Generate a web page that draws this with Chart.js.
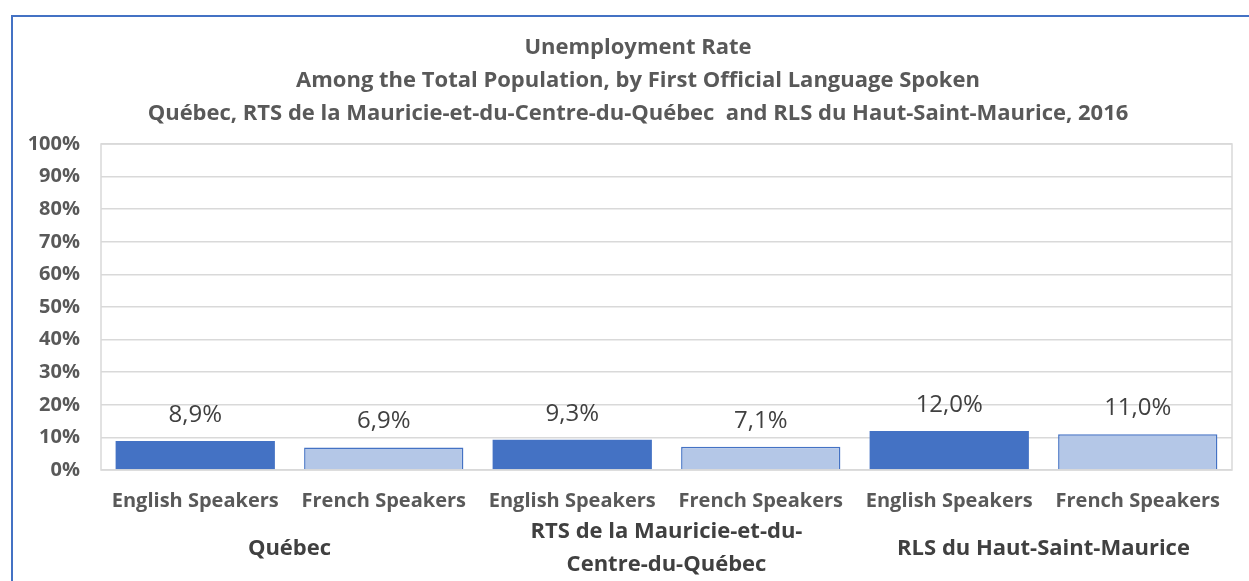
<!DOCTYPE html>
<html>
<head>
<meta charset="utf-8">
<script src="https://cdn.jsdelivr.net/npm/chart.js@4.4.1/dist/chart.umd.min.js"></script>
<style>
  html, body { margin: 0; padding: 0; background: #fff; }
  #wrap { position: relative; width: 1249px; height: 581px; overflow: hidden; }
  #frame { position: absolute; left: 11px; top: 15px; width: 1300px; height: 700px; border: 2px solid #4472C4; box-sizing: border-box; }
  canvas { position: absolute; left: 0; top: 0; }
</style>
</head>
<body>
<div id="wrap">
  <div id="frame"></div>
  <canvas id="c" width="1249" height="581"></canvas>
</div>
<script>
const titleLines = [
  "Unemployment Rate",
  "Among the Total Population, by First Official Language Spoken",
  "Québec, RTS de la Mauricie-et-du-Centre-du-Québec  and RLS du Haut-Saint-Maurice, 2016"
];
const categories = ["English Speakers", "French Speakers", "English Speakers", "French Speakers", "English Speakers", "French Speakers"];
const groups = [["Québec"], ["RTS de la Mauricie-et-du-", "Centre-du-Québec"], ["RLS du Haut-Saint-Maurice"]];
const values = [8.9, 6.9, 9.3, 7.1, 12.0, 11.0];
const yTicks = [0, 10, 20, 30, 40, 50, 60, 70, 80, 90, 100];

const FONT = "'Open Sans', sans-serif";
const DARK = "#4472C4", LIGHT = "#B4C7E7";
const fills = values.map((v, i) => i % 2 === 0 ? DARK : LIGHT);

const overlay = {
  id: 'overlay',
  afterDraw(chart) {
    const ctx = chart.ctx;
    const a = chart.chartArea;
    ctx.save();
    ctx.strokeStyle = '#D9D9D9';
    ctx.lineWidth = 1.5;
    ctx.strokeRect(a.left, a.top, a.right - a.left, a.bottom - a.top);
    ctx.fillStyle = '#595959';
    ctx.textAlign = 'center';
    ctx.textBaseline = 'middle';
    ctx.font = "bold 22px " + FONT;
    const ty = [48, 81, 114];
    titleLines.forEach((t, i) => ctx.fillText(t, 638, ty[i]));
    const meta = chart.getDatasetMeta(0);
    ctx.fillStyle = '#404040';
    ctx.font = "24px " + FONT;
    meta.data.forEach((bar, i) => {
      ctx.fillText(values[i].toFixed(1).replace('.', ',') + '%', bar.x, bar.y - 26);
    });
    const xs = chart.scales.x;
    ctx.fillStyle = '#404040';
    ctx.font = "bold 22px " + FONT;
    groups.forEach((lines, g) => {
      const cx = (xs.getPixelForValue(g * 2) + xs.getPixelForValue(g * 2 + 1)) / 2;
      if (lines.length === 1) {
        ctx.fillText(lines[0], cx, 549);
      } else {
        lines.forEach((l, k) => ctx.fillText(l, cx, 532 + k * 33));
      }
    });
    ctx.restore();
  }
};

new Chart(document.getElementById('c'), {
  type: 'bar',
  data: {
    labels: categories,
    datasets: [{
      data: values,
      backgroundColor: fills,
      borderColor: DARK,
      borderWidth: values.map((v, i) => i % 2 === 0 ? 0 : 1.5),
      categoryPercentage: 1,
      barPercentage: 0.845
    }]
  },
  options: {
    responsive: false,
    animation: false,
    layout: { padding: { left: 0, right: 17, top: 144, bottom: 0 } },
    plugins: { legend: { display: false }, title: { display: false }, tooltip: { enabled: false } },
    scales: {
      x: {
        grid: { display: false, drawTicks: false },
        border: { display: false },
        ticks: { color: '#595959', font: { family: FONT, size: 20, weight: 'bold' }, padding: 19, maxRotation: 0, autoSkip: false },
        afterFit(s) { s.height = 111; }
      },
      y: {
        min: 0, max: 100,
        afterBuildTicks(s) { s.ticks = yTicks.map(v => ({ value: v })); },
        grid: { color: '#D9D9D9', lineWidth: 1.5, drawTicks: false },
        border: { display: false },
        ticks: { color: '#595959', font: { family: FONT, size: 20, weight: 'bold' }, padding: 21, callback: v => v + '%' },
        afterFit(s) { s.width = 101; }
      }
    }
  },
  plugins: [overlay]
});
</script>
</body>
</html>
